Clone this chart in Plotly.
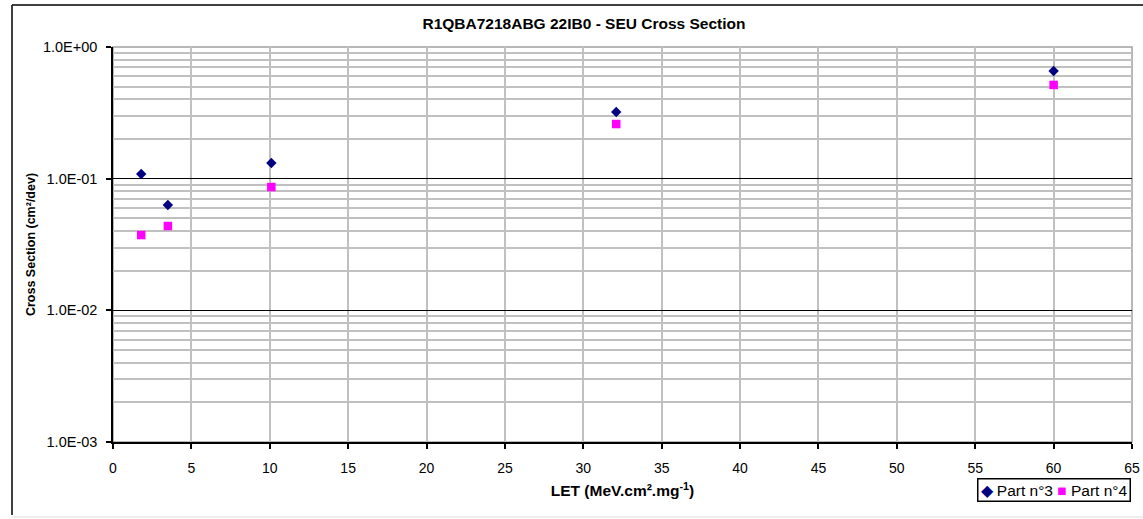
import plotly.graph_objects as go

# LET values (MeV.cm².mg⁻¹) and measured SEU cross sections (cm²/dev)
let_values = [1.8, 3.5, 10.1, 32.1, 60.0]
part3_xs = [0.1085, 0.0631, 0.1315, 0.321, 0.657]
part4_xs = [0.0373, 0.0437, 0.0864, 0.260, 0.515]

series_names = ["Part n°3", "Part n°4"]
series_colors = ["#000080", "#ff00ff"]
x_ticks = list(range(0, 70, 5))
y_ticks = [1e-3, 1e-2, 1e-1, 1e0]
y_tick_text = ["1.0E-03", "1.0E-02", "1.0E-01", "1.0E+00"]

# minor gridlines inside each decade
minor_vals = [m * 10.0 ** e for e in (-3, -2, -1) for m in range(2, 10)]

FONT = "Liberation Sans, Arial, sans-serif"

fig = go.Figure()
fig.add_trace(go.Scatter(
    x=let_values, y=part3_xs, mode="markers", name=series_names[0],
    marker=dict(symbol="diamond", color=series_colors[0], size=8, line=dict(width=0)),
))
fig.add_trace(go.Scatter(
    x=let_values, y=part4_xs, mode="markers", name=series_names[1],
    marker=dict(symbol="square", color=series_colors[1], size=8.5, line=dict(width=0)),
))

fig.update_layout(
    width=1143, height=519,
    margin=dict(l=113, r=11, t=47, b=77, autoexpand=False),
    paper_bgcolor="white", plot_bgcolor="white",
    font=dict(family=FONT, size=14, color="black"),
    title=dict(
        text="<b>R1QBA7218ABG 22IB0 - SEU Cross Section</b>",
        x=584 / 1143, xanchor="center", y=1 - 24 / 519, yanchor="middle",
        font=dict(family=FONT, size=15.5, color="black"),
    ),
    showlegend=False,
    xaxis=dict(
        range=[0, 65], tickvals=x_ticks, ticks="outside", ticklen=5,
        tickcolor="black", tickwidth=1.5, automargin=False,
        ticklabelstandoff=7, tickfont=dict(size=14),
        showline=True, linecolor="black", linewidth=1.5,
        showgrid=True, gridcolor="#c0c0c0", gridwidth=1.5,
        zeroline=False,
        title=dict(text="<b>LET (MeV.cm².mg<sup>-1</sup>)</b>", standoff=11,
                   font=dict(family=FONT, size=15.5, color="black")),
    ),
    yaxis=dict(
        type="log", range=[-3, 0], tickvals=y_ticks, ticktext=y_tick_text,
        ticks="outside", ticklen=5, tickcolor="black", tickwidth=1.5,
        automargin=False, ticklabelstandoff=6, tickfont=dict(size=14.5),
        showline=True, linecolor="black", linewidth=1.5,
        showgrid=True, gridcolor="black", gridwidth=1.2,
        zeroline=False,
        minor=dict(tickvals=minor_vals, showgrid=True, gridcolor="#c0c0c0",
                   gridwidth=1.5, ticks=""),
        title=dict(text="<b>Cross Section (cm²/dev)</b>", standoff=5,
                   font=dict(family=FONT, size=12.5, color="black")),
    ),
)

# legend box with the series symbols
legend_text = " ".join(
    f'<span style="color:{c}">{"◆" if i == 0 else "■"}</span> {n}'
    for i, (n, c) in enumerate(zip(series_names, series_colors))
)
fig.add_annotation(
    text=legend_text, xref="paper", yref="paper",
    x=(1131 - 113) / 1019, xanchor="right", y=(442 - 478) / 395, yanchor="top",
    showarrow=False, bordercolor="black", borderwidth=1.5, borderpad=2,
    bgcolor="white", font=dict(family=FONT, size=15.5, color="black"),
)

# plot-area border (top and right edges) and the outer chart frame
fig.add_shape(type="rect", xref="paper", yref="paper", x0=0, x1=1, y0=0, y1=1,
              line=dict(color="#a0a0a0", width=1.5), layer="below")
fx0 = (12 - 113) / 1019
fy_top = (442 - 5) / 395
fy_bot = (442 - 515) / 395
fx1 = (1150 - 113) / 1019
fig.add_shape(type="line", xref="paper", yref="paper", x0=fx0, x1=fx0, y0=fy_bot, y1=fy_top,
              line=dict(color="black", width=1.5))
fig.add_shape(type="line", xref="paper", yref="paper", x0=fx0, x1=fx1, y0=fy_top, y1=fy_top,
              line=dict(color="black", width=1.5))
fig.add_shape(type="line", xref="paper", yref="paper", x0=fx0, x1=fx1,
              y0=(442 - 517) / 395, y1=(442 - 517) / 395,
              line=dict(color="#dddddd", width=1))

fig.write_html("out.html")
